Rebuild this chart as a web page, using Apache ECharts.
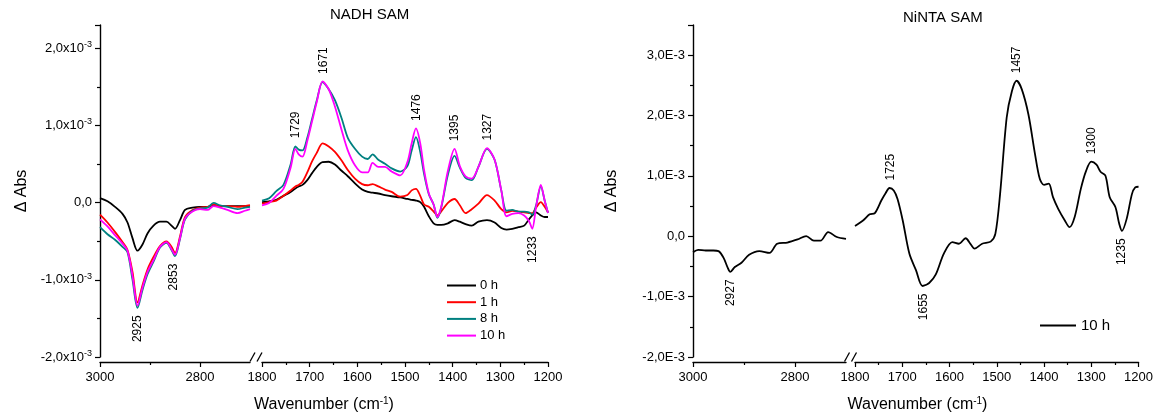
<!DOCTYPE html>
<html><head><meta charset="utf-8">
<script src="https://cdn.jsdelivr.net/npm/echarts@6.0.0/dist/echarts.min.js"></script>
<style>html,body{margin:0;padding:0;background:#fff}#c{width:1156px;height:418px}</style>
</head><body><div id="c"></div>
<script>
// values in units of 1e-3 Abs
const wnNadhHigh = [3000, 2985, 2970, 2955, 2945, 2935, 2925, 2915, 2905, 2893, 2880, 2867, 2857, 2850, 2840, 2830, 2815, 2800, 2785, 2773, 2760, 2745, 2725, 2710, 2700];
const nadh0hHigh = [0.09, 0.05, -0.02, -0.11, -0.22, -0.42, -0.58, -0.50, -0.36, -0.26, -0.21, -0.21, -0.26, -0.30, -0.19, -0.06, -0.03, -0.02, -0.02, 0.00, -0.01, -0.01, -0.01, -0.01, -0.01];
const nadh1hHigh = [-0.12, -0.22, -0.34, -0.47, -0.57, -0.85, -1.24, -1.02, -0.82, -0.66, -0.52, -0.46, -0.53, -0.61, -0.40, -0.15, -0.06, -0.03, -0.02, 0.01, -0.01, -0.01, -0.02, -0.01, 0.00];
const nadh8hHigh = [-0.28, -0.37, -0.44, -0.53, -0.60, -0.95, -1.31, -1.08, -0.88, -0.72, -0.54, -0.48, -0.57, -0.65, -0.43, -0.18, -0.07, -0.04, -0.03, 0.03, 0.00, -0.02, -0.05, -0.03, -0.02];
const nadh10hHigh = [-0.18, -0.27, -0.38, -0.49, -0.58, -0.90, -1.28, -1.05, -0.85, -0.70, -0.53, -0.47, -0.56, -0.63, -0.42, -0.17, -0.08, -0.05, -0.06, -0.01, -0.03, -0.06, -0.10, -0.07, -0.05];

const wnNadhLow = [1800, 1785, 1770, 1755, 1740, 1730, 1723, 1715, 1705, 1695, 1685, 1673, 1660, 1647, 1633, 1620, 1605, 1590, 1578, 1568, 1556, 1542, 1528, 1510, 1495, 1486, 1477, 1468, 1460, 1450, 1440, 1432, 1424, 1410, 1396, 1385, 1373, 1360, 1346, 1328, 1312, 1298, 1287, 1275, 1262, 1250, 1240, 1233, 1225, 1215, 1207, 1200];
const nadh0hLow = [0.04, 0.05, 0.07, 0.12, 0.17, 0.215, 0.24, 0.26, 0.32, 0.41, 0.49, 0.55, 0.555, 0.52, 0.44, 0.37, 0.28, 0.20, 0.17, 0.16, 0.15, 0.13, 0.115, 0.10, 0.08, 0.07, 0.06, 0.04, -0.02, -0.14, -0.23, -0.25, -0.25, -0.23, -0.19, -0.21, -0.24, -0.26, -0.21, -0.19, -0.22, -0.29, -0.31, -0.30, -0.28, -0.26, -0.18, -0.13, -0.09, -0.13, -0.15, -0.15];
const nadh1hLow = [0.02, 0.04, 0.06, 0.12, 0.19, 0.24, 0.26, 0.30, 0.42, 0.56, 0.67, 0.79, 0.75, 0.68, 0.57, 0.45, 0.34, 0.27, 0.255, 0.27, 0.24, 0.20, 0.17, 0.11, 0.13, 0.19, 0.21, 0.12, 0.01, -0.02, -0.08, -0.13, -0.08, 0.03, 0.08, 0.00, -0.10, -0.05, 0.02, 0.13, 0.06, -0.05, -0.09, -0.07, -0.08, -0.09, -0.10, -0.10, -0.03, 0.04, -0.02, -0.09];
const nadh8hLow = [0.06, 0.09, 0.18, 0.26, 0.52, 0.75, 0.71, 0.70, 0.86, 1.10, 1.34, 1.57, 1.48, 1.34, 1.11, 0.86, 0.72, 0.62, 0.59, 0.65, 0.58, 0.53, 0.47, 0.43, 0.50, 0.70, 0.87, 0.68, 0.40, 0.14, 0.01, -0.16, -0.03, 0.39, 0.63, 0.48, 0.35, 0.32, 0.49, 0.72, 0.58, 0.19, -0.07, -0.06, -0.08, -0.08, -0.09, -0.12, 0.00, 0.24, 0.06, -0.10];
const nadh10hLow = [0.00, 0.03, 0.12, 0.21, 0.48, 0.72, 0.65, 0.62, 0.82, 1.07, 1.32, 1.58, 1.48, 1.26, 0.96, 0.70, 0.51, 0.42, 0.42, 0.54, 0.49, 0.49, 0.43, 0.38, 0.55, 0.79, 0.98, 0.79, 0.45, 0.15, 0.01, -0.15, -0.02, 0.44, 0.72, 0.50, 0.37, 0.34, 0.49, 0.73, 0.58, 0.19, -0.14, -0.11, -0.10, -0.13, -0.20, -0.30, -0.02, 0.26, 0.06, -0.10];

const wnNintaHigh = [3000, 2990, 2975, 2960, 2950, 2940, 2932, 2927, 2918, 2905, 2890, 2870, 2850, 2835, 2815, 2795, 2778, 2763, 2750, 2735, 2718, 2700];
const nintaHigh = [-0.21, -0.17, -0.18, -0.18, -0.19, -0.30, -0.46, -0.53, -0.45, -0.38, -0.25, -0.19, -0.22, -0.07, -0.05, 0.00, 0.055, -0.02, -0.02, 0.12, 0.04, 0.01];
const wnNintaLow = [1800, 1783, 1769, 1758, 1744, 1735, 1727, 1718, 1710, 1699, 1685, 1671, 1657, 1643, 1629, 1612, 1594, 1580, 1566, 1555, 1547, 1531, 1513, 1503, 1493, 1479, 1468, 1458, 1447, 1433, 1419, 1409, 1400, 1390, 1381, 1370, 1356, 1346, 1335, 1322, 1311, 1300, 1289, 1280, 1270, 1261, 1249, 1241, 1235, 1225, 1214, 1207, 1200];
const nintaLow = [0.22, 0.31, 0.41, 0.43, 0.64, 0.76, 0.84, 0.80, 0.66, 0.31, -0.23, -0.50, -0.76, -0.71, -0.57, -0.23, -0.045, -0.07, 0.02, -0.08, -0.15, -0.07, -0.035, 0.09, 0.74, 1.99, 2.42, 2.59, 2.45, 2.04, 1.39, 0.99, 0.89, 0.91, 0.69, 0.50, 0.31, 0.20, 0.37, 0.83, 1.12, 1.27, 1.22, 1.10, 1.04, 0.69, 0.53, 0.26, 0.14, 0.34, 0.74, 0.85, 0.86];

// peak annotations: [wavenumber, value, side]
const nadhPeaksHigh = [[2925, -1.31, 'down'], [2853, -0.65, 'down']];
const nadhPeaksLow = [[1729, 0.76, 'up'], [1671, 1.58, 'up'], [1476, 0.98, 'up'], [1395, 0.72, 'up'], [1327, 0.73, 'up'], [1233, -0.30, 'down']];
const nintaPeaksHigh = [[2927, -0.53, 'down']];
const nintaPeaksLow = [[1725, 0.84, 'up'], [1655, -0.76, 'down'], [1457, 2.59, 'up'], [1300, 1.27, 'up'], [1235, 0.14, 'down']];

const seriesNames = ['0 h', '1 h', '8 h', '10 h'];
const seriesColors = ['#000000', '#ff0000', '#008080', '#ff00ff'];

const FONT = '"Liberation Sans", Arial, sans-serif';
const zip = (xs, ys) => xs.map((x, i) => [x, ys[i]]);

function peakMarks(list) {
  return {
    symbol: 'circle', symbolSize: 1, silent: true, animation: false,
    itemStyle: { color: 'rgba(0,0,0,0)' },
    data: list.map(([wn, v, side]) => ({
      coord: [wn, v],
      label: {
        show: true, formatter: String(wn), rotate: 90,
        position: side === 'up' ? 'top' : 'bottom', distance: 7,
        align: side === 'up' ? 'left' : 'right', verticalAlign: 'middle',
        fontSize: 12, color: '#000', fontFamily: FONT
      }
    }))
  };
}

const axisLineStyle = { onZero: false, lineStyle: { color: '#000', width: 1.4 } };
const TOP = 25, HEIGHT = 337;
const tickStyle = { color: '#000', width: 1.2 };

function frameGrid(left, width) { return { left, width, top: TOP, height: HEIGHT, containLabel: false }; }

const supRich = { sup: { fontSize: 9, verticalAlign: 'top', fontFamily: FONT, color: '#000', lineHeight: 16 }, n: { fontSize: 13, fontFamily: FONT, color: '#000', lineHeight: 16 } };

function hiddenY(gridIndex, min, max) {
  return { gridIndex, type: 'value', min, max, show: false };
}
function frameX(gridIndex) {
  return {
    gridIndex, type: 'value', min: 0, max: 1, position: 'bottom',
    axisLine: { show: false, onZero: false }, axisTick: { show: false }, axisLabel: { show: false }, splitLine: { show: false },
    name: 'Wavenumber (cm{sup|-1})', nameLocation: 'middle', nameGap: 39,
    nameTextStyle: { fontSize: 16, color: '#000', fontFamily: FONT,
      rich: { sup: { fontSize: 10, verticalAlign: 'top', fontFamily: FONT, color: '#000', lineHeight: 18 } } }
  };
}
const plain = v => String(v);
function highX(gridIndex) {
  return {
    gridIndex, type: 'value', min: 2700, max: 3000, inverse: true, position: 'bottom',
    axisLine: axisLineStyle, splitLine: { show: false },
    axisTick: { show: true, length: 5, inside: false, customValues: [3000, 2800], lineStyle: tickStyle },
    axisLabel: { customValues: [3000, 2800], formatter: plain, fontSize: 13, color: '#000', fontFamily: FONT, margin: 9 }
  };
}
function highMinorX(gridIndex) {
  return {
    gridIndex, type: 'value', min: 2700, max: 3000, inverse: true, position: 'bottom',
    axisLine: { show: false, onZero: false }, splitLine: { show: false },
    axisTick: { show: true, length: 3, customValues: [2900], lineStyle: tickStyle },
    axisLabel: { show: false }
  };
}
function lowX(gridIndex) {
  return {
    gridIndex, type: 'value', min: 1200, max: 1800, interval: 100, inverse: true, position: 'bottom',
    axisLine: axisLineStyle, splitLine: { show: false },
    axisTick: { show: true, length: 5, lineStyle: tickStyle },
    minorTick: { show: true, splitNumber: 2, length: 3, lineStyle: tickStyle },
    axisLabel: { formatter: plain, fontSize: 13, color: '#000', fontFamily: FONT, margin: 9 }
  };
}
function visibleY(gridIndex, min, max, formatter, nameGap, rich) {
  return {
    gridIndex, type: 'value', min, max, interval: 1, position: 'left',
    axisLine: { show: true, ...axisLineStyle }, splitLine: { show: false },
    axisTick: { show: true, length: 5, lineStyle: tickStyle },
    minorTick: { show: true, splitNumber: 2, length: 3, lineStyle: tickStyle },
    axisLabel: { fontSize: 13, color: '#000', fontFamily: FONT, margin: 8, formatter, rich },
    name: 'Δ Abs', nameLocation: 'middle', nameGap, nameRotate: 90,
    nameTextStyle: { fontSize: 16, color: '#000', fontFamily: FONT }
  };
}
const fmtComma = v => v.toFixed(1).replace('.', ',');
const leftFmt = v => v > 2.2 ? '' : (v === 0 ? '{n|0,0}' : `{n|${fmtComma(v)}x10}{sup|-3}`);
const rightFmt = v => v > 3.2 ? '' : (v === 0 ? '0,0' : `${fmtComma(v)}E-3`);

function line(name, color, xAxisIndex, yAxisIndex, data, marks) {
  const s = {
    name, type: 'line', xAxisIndex, yAxisIndex, data, symbol: 'none', smooth: 0.3,
    lineStyle: { color, width: 1.8 }, itemStyle: { color }, animation: false, silent: true, z: 3
  };
  if (marks) s.markPoint = marks;
  return s;
}

const highSets = [nadh0hHigh, nadh1hHigh, nadh8hHigh, nadh10hHigh];
const lowSets = [nadh0hLow, nadh1hLow, nadh8hLow, nadh10hLow];
const series = [];
seriesNames.forEach((n, i) => {
  series.push(line(n, seriesColors[i], 1, 1, zip(wnNadhHigh, highSets[i]), i === 3 ? peakMarks(nadhPeaksHigh) : null));
  series.push(line(n, seriesColors[i], 3, 2, zip(wnNadhLow, lowSets[i]), i === 3 ? peakMarks(nadhPeaksLow) : null));
});
series.push(line('NiNTA 10 h', '#000000', 5, 4, zip(wnNintaHigh, nintaHigh), peakMarks(nintaPeaksHigh)));
series.push(line('NiNTA 10 h', '#000000', 7, 5, zip(wnNintaLow, nintaLow), peakMarks(nintaPeaksLow)));

const chart = echarts.init(document.getElementById('c'), null, { renderer: 'canvas' });
chart.setOption({
  animation: false,
  backgroundColor: '#fff',
  textStyle: { fontFamily: FONT },
  title: [
    { text: 'NADH SAM', left: 330, top: 7, padding: 0, textStyle: { fontSize: 15, fontWeight: 'normal', color: '#000', fontFamily: FONT } },
    { text: 'NiNTA SAM', left: 903, top: 10, padding: 0, textStyle: { fontSize: 15, fontWeight: 'normal', color: '#000', fontFamily: FONT } }
  ],
  legend: [
    { data: seriesNames, orient: 'vertical', left: 446, top: 279, itemWidth: 29, itemHeight: 12, itemGap: 3.7, padding: 0,
      selectedMode: false, itemStyle: { opacity: 0 },
      textStyle: { fontSize: 13, color: '#000', fontFamily: FONT, padding: [0, 0, 0, -1] } },
    { data: ['NiNTA 10 h'], orient: 'vertical', left: 1039, top: 318, itemWidth: 36, itemHeight: 14, padding: 0,
      selectedMode: false, itemStyle: { opacity: 0 }, formatter: () => '10 h',
      textStyle: { fontSize: 15, color: '#000', fontFamily: FONT } }
  ],
  grid: [
    frameGrid(100, 448), frameGrid(100, 150), frameGrid(262, 286),
    frameGrid(693, 449), frameGrid(693, 153), frameGrid(855, 287)
  ],
  xAxis: [frameX(0), highX(1), highMinorX(1), lowX(2), frameX(3), highX(4), highMinorX(4), lowX(5)],
  yAxis: [
    visibleY(0, -2, 2.3, leftFmt, 70, supRich), hiddenY(1, -2, 2.3), hiddenY(2, -2, 2.3),
    visibleY(3, -2, 3.5, rightFmt, 73), hiddenY(4, -2, 3.5), hiddenY(5, -2, 3.5)
  ],
  series
});

// axis break marks "//" between the two segments of each panel
function breakMarks(endAxis, startAxis, yAxis, yMin) {
  const x1 = chart.convertToPixel({ xAxisIndex: endAxis }, 2700);
  const x2 = chart.convertToPixel({ xAxisIndex: startAxis }, 1800);
  const y = chart.convertToPixel({ yAxisIndex: yAxis }, yMin);
  const mid = (x1 + x2) / 2;
  return [-3.5, 3.5].map(d => ({
    type: 'line', silent: true, z: 10,
    shape: { x1: mid + d - 2.5, y1: y + 4.5, x2: mid + d + 2.5, y2: y - 4.5 },
    style: { stroke: '#000', lineWidth: 1.3 }
  }));
}
chart.setOption({ graphic: [...breakMarks(1, 3, 0, -2), ...breakMarks(5, 7, 3, -2)] });
</script></body></html>
